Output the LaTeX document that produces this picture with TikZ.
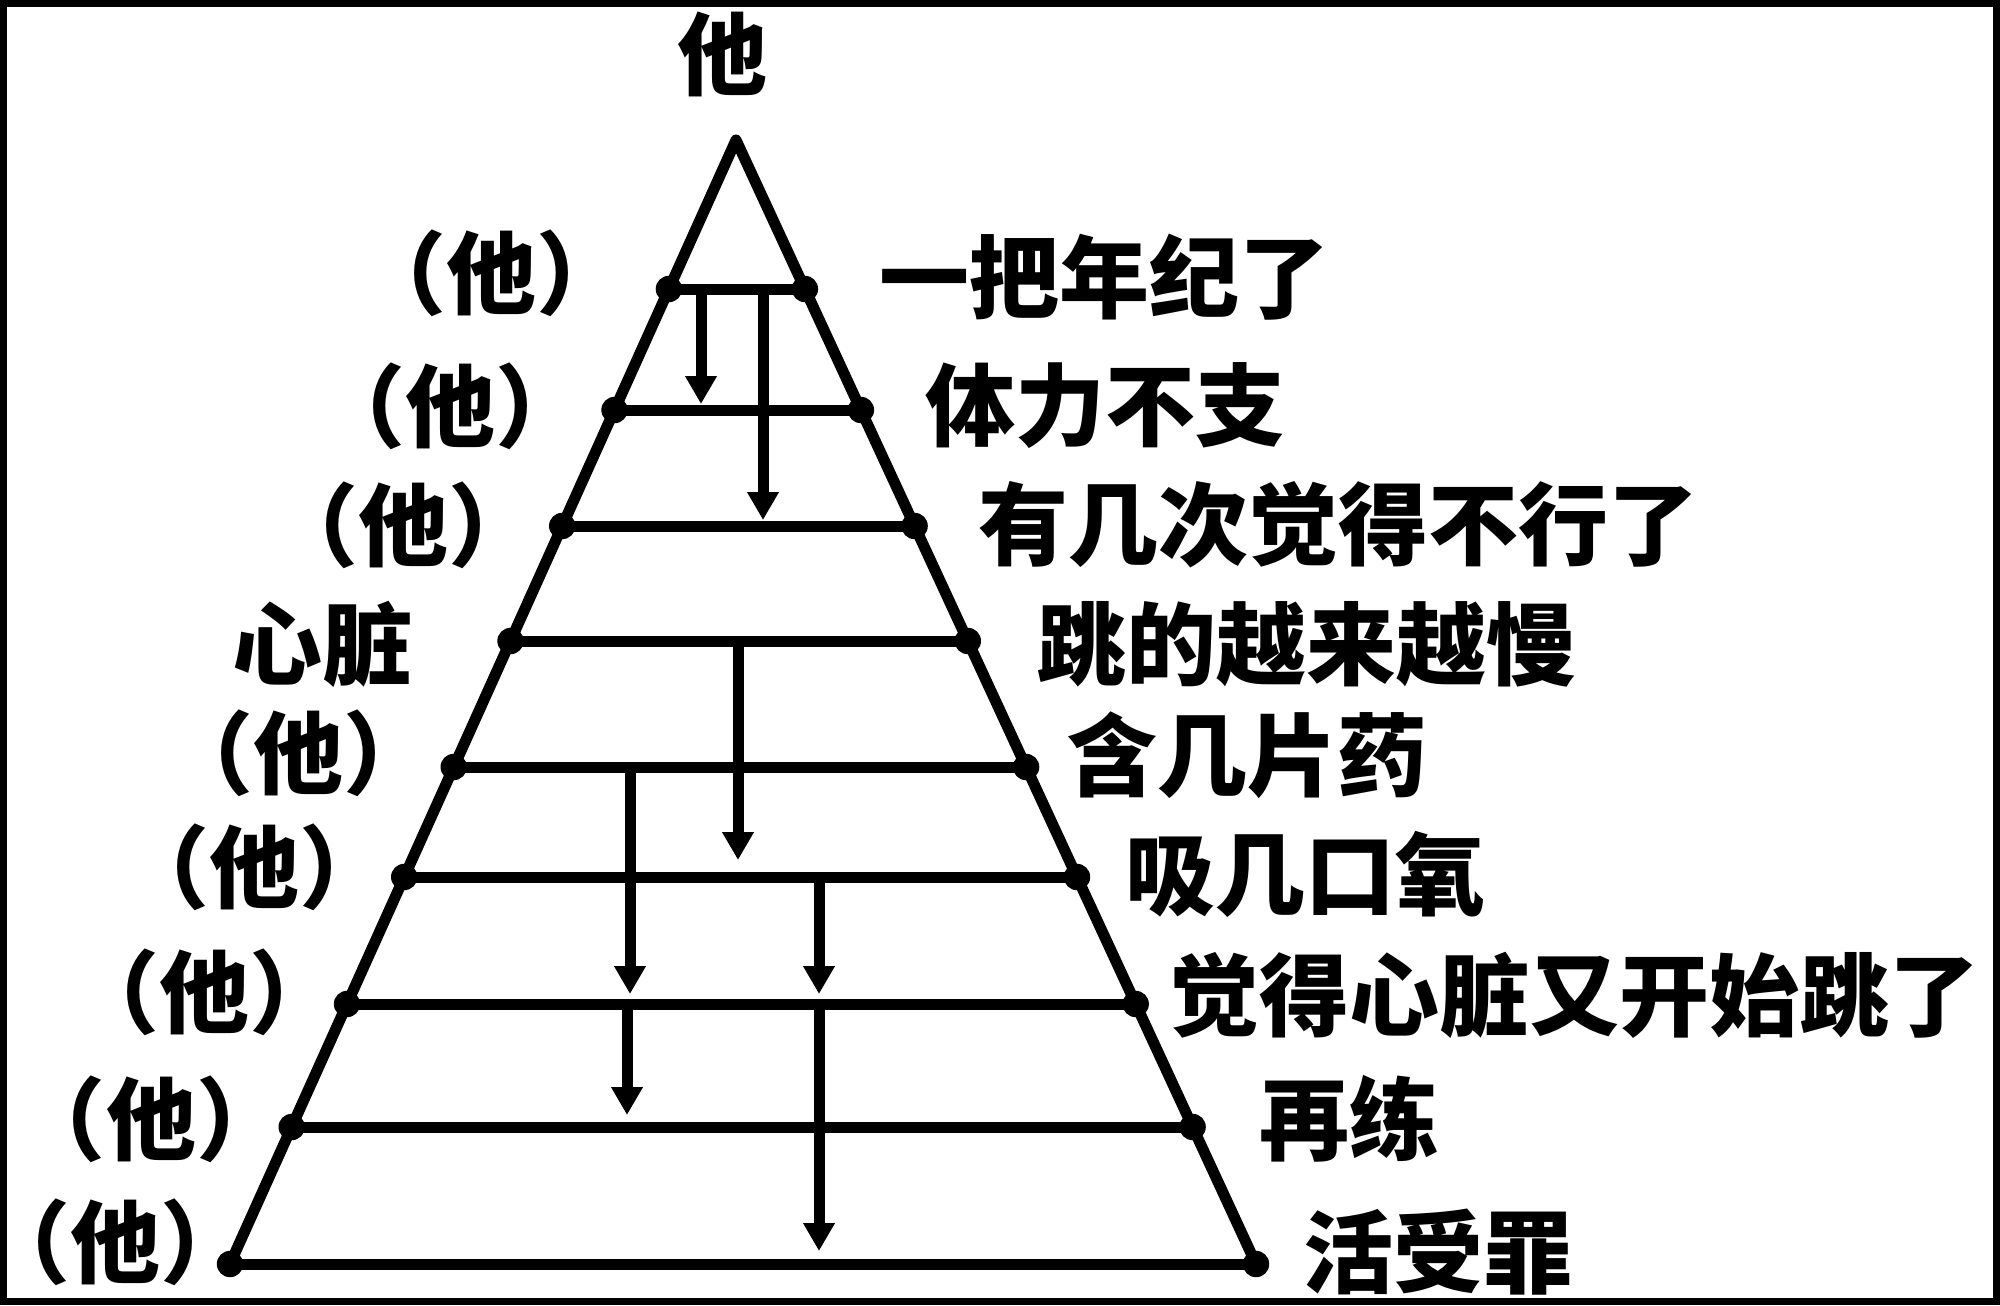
\documentclass[tikz,border=0pt]{standalone}
\usepackage{fontspec}
\newfontfamily\cjk{Noto Sans CJK SC}
\usetikzlibrary{arrows.meta,calc}
\newcommand{\hetext}{\kern-0.3em（他）\kern-0.3em}
\begin{document}
\begin{tikzpicture}[x=0.5pt,y=-0.5pt,
  txt/.style={font=\cjk\bfseries\fontsize{45pt}{50pt}\selectfont, inner sep=0pt},
  rlab/.style={txt, anchor=west},
  edge/.style={line width=5.5pt, line join=round, line cap=round},
  flow/.style={line width=5.5pt, -{Triangle[width=15pt,length=14pt]}},
  dot/.style={fill=black}]
\useasboundingbox (0,0) rectangle (2000,1305);
\fill[white] (0,0) rectangle (2000,1305);
\draw[line width=3.6pt] (3.6,3.6) rectangle (1996.4,1301.4);

% apex and base
\coordinate (apex) at (736,140);
\coordinate (bl) at (230,1264);
\coordinate (br) at (1256,1264);

% level end points
\coordinate (l1) at (668.9,289);  \coordinate (r1) at (804.9,289);
\coordinate (l2) at (614.5,410);  \coordinate (r2) at (860.9,410);
\coordinate (l3) at (562.2,526);  \coordinate (r3) at (914.6,526);
\coordinate (l4) at (510.5,641);  \coordinate (r4) at (967.8,641);
\coordinate (l5) at (453.7,767);  \coordinate (r5) at (1026.1,767);
\coordinate (l6) at (404.2,877);  \coordinate (r6) at (1077.0,877);
\coordinate (l7) at (347.0,1004); \coordinate (r7) at (1135.7,1004);
\coordinate (l8) at (291.7,1127); \coordinate (r8) at (1192.6,1127);
\coordinate (l9) at (230,1264);   \coordinate (r9) at (1256,1264);

% pyramid
\draw[edge] (bl) -- (apex) -- (br);
\foreach \i in {1,...,9}{
  \draw[edge] (l\i) -- (r\i);
  \fill[dot] (l\i) circle[radius=6.6pt];
  \fill[dot] (r\i) circle[radius=6.6pt];
}

% arrows
\coordinate (aS) at (701,289);  \coordinate (aE) at (701,404);
\coordinate (bS) at (763,289);  \coordinate (bE) at (763,520);
\coordinate (cS) at (738,641);  \coordinate (cE) at (738,860);
\coordinate (dS) at (630,767);  \coordinate (dE) at (630,994);
\coordinate (eS) at (819,877);  \coordinate (eE) at (819,994);
\coordinate (fS) at (627,1004); \coordinate (fE) at (627,1115);
\coordinate (gS) at (819,1004); \coordinate (gE) at (819,1251);
\draw[flow] (aS) -- (aE);
\draw[flow] (bS) -- (bE);
\draw[flow] (cS) -- (cE);
\draw[flow] (dS) -- (dE);
\draw[flow] (eS) -- (eE);
\draw[flow] (fS) -- (fE);
\draw[flow] (gS) -- (gE);

% top label
\node[txt] (top) at (722,54) {他};

% left labels
\node[txt] (p1) at (491,273) {\hetext};
\node[txt] (p2) at (450,406) {\hetext};
\node[txt] (p3) at (403,525) {\hetext};
\node[txt] (p4) at (322,644) {心脏};
\node[txt] (p5) at (298,753) {\hetext};
\node[txt] (p6) at (254,867) {\hetext};
\node[txt] (p7) at (204,992) {\hetext};
\node[txt] (p8) at (151,1119) {\hetext};
\node[txt] (p9) at (116,1242) {\hetext};

% right labels
\node[rlab] (q1) at (879,277) {一把年纪了};
\node[rlab] (q2) at (925,406) {体力不支};
\node[rlab] (q3) at (978,525) {有几次觉得不行了};
\node[rlab] (q4) at (1036,644) {跳的越来越慢};
\node[rlab] (q5) at (1067,755) {含几片药};
\node[rlab] (q6) at (1125,874) {吸几口氧};
\node[rlab] (q7) at (1169,995) {觉得心脏又开始跳了};
\node[rlab] (q8) at (1259,1119) {再练};
\node[rlab] (q9) at (1303,1252) {活受罪};
\end{tikzpicture}
\end{document}
